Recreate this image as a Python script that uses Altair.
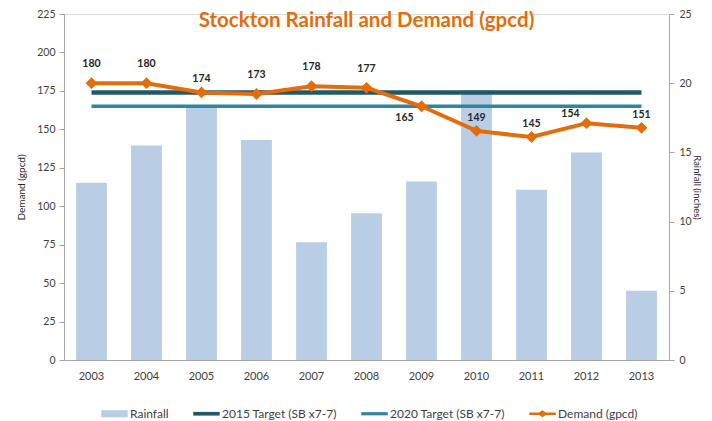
import altair as alt
import pandas as pd

years = ["2003", "2004", "2005", "2006", "2007", "2008", "2009", "2010", "2011", "2012", "2013"]
rainfall = [12.8, 15.5, 18.4, 15.9, 8.5, 10.6, 12.9, 19.5, 12.3, 15.0, 5.0]
demand = [180, 180, 174, 173, 178, 177, 165, 149, 145, 154, 151]
target_2015 = 174
target_2020 = 165
series_names = ["Rainfall", "2015 Target (SB x7-7)", "2020 Target (SB x7-7)", "Demand (gpcd)"]
series_colors = ["#B9CDE5", "#215968", "#31859C", "#E46C0A"]
legend_paths = [
    "M-1,-0.27H1V0.27H-1Z",
    "M-1,-0.14H1V0.14H-1Z",
    "M-1,-0.12H1V0.12H-1Z",
    "M-1,-0.1H-0.25L0,-0.26L0.25,-0.1H1V0.1H0.25L0,0.26L-0.25,0.1H-1Z",
]

df = pd.DataFrame({"year": years, "rainfall": rainfall, "demand": demand})
t15 = pd.DataFrame({"year": years, "value": [target_2015] * len(years)})
t20 = pd.DataFrame({"year": years, "value": [target_2020] * len(years)})
leg = pd.DataFrame({"series": series_names})

FONT = "Lato"
GREY = "#A6A6A6"

xenc = alt.X("year:N", sort=years,
             scale=alt.Scale(paddingInner=0.44, paddingOuter=0.22),
             axis=alt.Axis(title=None, labelAngle=0, ticks=False, labelPadding=10,
                           domainColor=GREY, labelColor="#404040", labelFontSize=11))

bars = alt.Chart(df).mark_bar(color="#B9CDE5").encode(
    x=xenc,
    y=alt.Y("rainfall:Q", scale=alt.Scale(domain=[0, 25], nice=False),
            axis=alt.Axis(orient="right", title="Rainfall (inches)", values=list(range(0, 26, 5)),
                          grid=False, tickSize=5, labelPadding=5, domainColor=GREY, tickColor=GREY,
                          labelColor="#404040", labelFontSize=10.5, titleFontSize=9.5,
                          titleFontWeight="normal", titleColor="#262626", titlePadding=0)),
)

yleft = alt.Y("value:Q", scale=alt.Scale(domain=[0, 225], nice=False),
              axis=alt.Axis(orient="left", title="Demand (gpcd)", values=list(range(0, 226, 25)),
                            grid=False, tickSize=5, labelPadding=4, domainColor=GREY, tickColor=GREY,
                            labelColor="#404040", labelFontSize=10.5, titleFontSize=10,
                            titleFontWeight="normal", titleColor="#262626", titlePadding=10))

line15 = alt.Chart(t15).mark_line(color="#215968", strokeWidth=4.5).encode(x=xenc, y=yleft)
line20 = alt.Chart(t20).mark_line(color="#31859C", strokeWidth=3.5).encode(x=xenc, y=yleft)

dem = alt.Chart(df).transform_calculate(value="datum.demand")
dem_line = dem.mark_line(color="#E46C0A", strokeWidth=4,
                         point=alt.OverlayMarkDef(shape="diamond", size=140, filled=True,
                                                  color="#E46C0A")).encode(x=xenc, y=yleft)

def labels(sel, dx, dy):
    return dem.transform_filter(alt.FieldOneOfPredicate(field="year", oneOf=sel)).mark_text(
        font=FONT, fontSize=10.5, fontWeight="bold", color="#262626", dx=dx, dy=dy
    ).encode(x=xenc, y=yleft, text=alt.Text("demand:Q"))

lab_a = labels(["2003", "2004", "2006", "2007", "2008"], 0, -19)
lab_b = labels(["2005", "2010", "2011", "2013"], 0, -13)
lab_c = labels(["2012"], -16, -9)
lab_d = labels(["2009"], -17, 12)

left = alt.layer(line15, line20, dem_line, lab_a, lab_b, lab_c, lab_d)

leg_props = dict(title=None, orient="none", direction="horizontal",
                 legendX=37, legendY=386, symbolSize=700, labelOffset=2,
                 columnPadding=24, labelFont=FONT, labelFontSize=12,
                 labelColor="#404040", symbolStrokeWidth=0)

legend_layer = alt.Chart(leg).transform_filter("false").mark_point(filled=True, opacity=1, size=700).encode(
    color=alt.Color("series:N", scale=alt.Scale(domain=series_names, range=series_colors),
                    legend=alt.Legend(**leg_props)),
    shape=alt.Shape("series:N", scale=alt.Scale(domain=series_names, range=legend_paths),
                    legend=alt.Legend(**leg_props)),
)

chart = alt.layer(bars, left, legend_layer).resolve_scale(y="independent").properties(
    width=605, height=346,
    autosize=alt.AutoSizeParams(type="none"),
    padding={"left": 56, "top": 6, "right": 35, "bottom": 61},
    title=alt.TitleParams(text="Stockton Rainfall and Demand (gpcd)", font=FONT, fontSize=20.5,
                          fontWeight="bold", color="#E46C0A", anchor="middle", frame="group",
                          offset=0, dy=22),
).configure_view(stroke=None).configure(font=FONT, background="white").configure_axis(
    labelFont=FONT, titleFont=FONT)

chart.save("out.html", embed_options={"renderer": "svg", "actions": False})
